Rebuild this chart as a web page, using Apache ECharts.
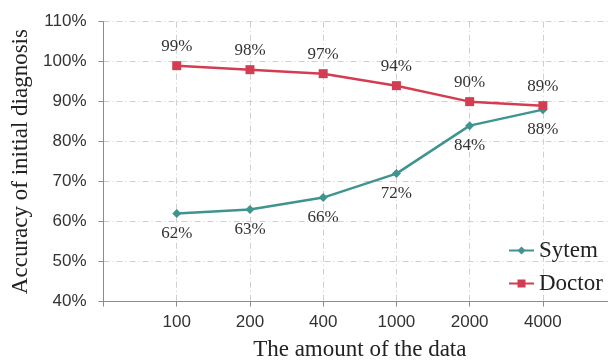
<!DOCTYPE html>
<html>
<head>
<meta charset="utf-8">
<style>
  html, body { margin: 0; padding: 0; background: #fff; }
  #chart { width: 608px; height: 360px; }
</style>
<script src="https://cdn.jsdelivr.net/npm/echarts@6/dist/echarts.min.js"></script>
</head>
<body>
<div id="chart"></div>
<script>
// Amount of training data (blank slots pad both ends of the axis)
const categories = ['', '100', '200', '400', '1000', '2000', '4000', ''];
// Accuracy of initial diagnosis, in percent
const systemValues = ['-', 62, 63, 66, 72, 84, 88, '-'];
const doctorValues = ['-', 99, 98, 97, 94, 90, 89, '-'];
const yTicks = { min: 40, max: 110, step: 10 };

const serif = '"Liberation Serif", "Times New Roman", serif';
const sans = '"Liberation Sans", Arial, sans-serif';
const gridDash = { color: '#cfcfcf', width: 1, type: [6, 3, 1, 3] };

const chart = echarts.init(document.getElementById('chart'), null, { renderer: 'canvas' });

chart.setOption({
  animation: false,
  backgroundColor: '#fff',
  grid: {
    left: 103.5, top: 21.7, bottom: 58.5, right: -8.1,
    containLabel: false,
    outerBoundsMode: 'none'
  },
  legend: {
    orient: 'vertical',
    left: 508,
    top: 239,
    padding: 0,
    itemWidth: 25,
    itemHeight: 10,
    itemGap: 10,
    textStyle: { fontFamily: serif, fontSize: 23, color: '#222' },
    data: ['Sytem', 'Doctor']
  },
  xAxis: {
    type: 'category',
    data: categories,
    boundaryGap: false,
    name: 'The amount of the data',
    nameLocation: 'middle',
    nameGap: 37,
    nameTextStyle: { fontFamily: serif, fontSize: 23, color: '#222' },
    axisLine: { lineStyle: { color: '#8c8c8c', width: 1 } },
    axisTick: { show: true, length: 5, interval: 0, lineStyle: { color: '#8c8c8c' } },
    axisLabel: { interval: 0, margin: 12, fontFamily: sans, fontSize: 17, color: '#333' },
    splitLine: { show: true, interval: 0, lineStyle: gridDash }
  },
  yAxis: {
    type: 'value',
    min: yTicks.min,
    max: yTicks.max,
    interval: yTicks.step,
    name: 'Accuracy of initial diagnosis',
    nameLocation: 'middle',
    nameGap: 69,
    nameTextStyle: { fontFamily: serif, fontSize: 23, color: '#222' },
    axisLine: { show: true, lineStyle: { color: '#8c8c8c', width: 1 } },
    axisTick: { show: true, length: 5, lineStyle: { color: '#8c8c8c' } },
    axisLabel: { formatter: '{value}%', margin: 17, fontFamily: sans, fontSize: 17, color: '#333' },
    splitLine: { show: true, lineStyle: gridDash }
  },
  series: [
    {
      name: 'Sytem',
      type: 'line',
      data: systemValues,
      symbol: 'diamond',
      symbolSize: 9,
      color: '#3f9490',
      lineStyle: { width: 2.5, color: '#3f9490' },
      itemStyle: { color: '#3f9490' },
      label: {
        show: true,
        position: 'bottom',
        distance: 7,
        formatter: '{c}%',
        fontFamily: serif,
        fontSize: 17,
        color: '#333'
      },
      z: 3
    },
    {
      name: 'Doctor',
      type: 'line',
      data: doctorValues,
      symbol: 'rect',
      symbolSize: 9,
      color: '#d43d51',
      lineStyle: { width: 2.5, color: '#d43d51' },
      itemStyle: { color: '#d43d51' },
      label: {
        show: true,
        position: 'top',
        distance: 6,
        formatter: '{c}%',
        fontFamily: serif,
        fontSize: 17,
        color: '#333'
      },
      z: 4
    }
  ]
});
</script>
</body>
</html>
